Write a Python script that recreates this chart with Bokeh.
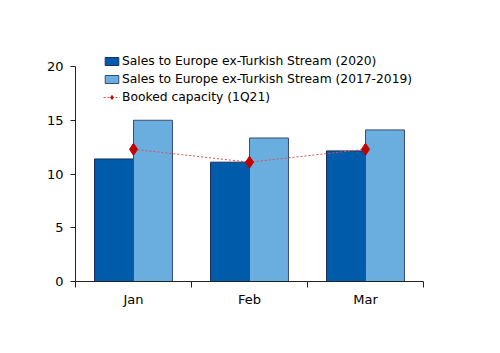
from bokeh.plotting import figure
from bokeh.models import ColumnDataSource, FixedTicker, Legend, LegendItem
from bokeh.embed import file_html
from bokeh.resources import INLINE

months = ["Jan", "Feb", "Mar"]
sales_2020 = [11.4, 11.1, 12.15]
sales_2017_2019 = [15.0, 13.35, 14.1]
booked_capacity = [12.3, 11.1, 12.3]
y_ticks = [0, 5, 10, 15, 20]

centers = [i + 0.5 for i in range(len(months))]
bar_w = 0.336

src = ColumnDataSource(dict(
    xc=centers,
    x1=[c - bar_w / 2 for c in centers],
    x2=[c + bar_w / 2 for c in centers],
    s20=sales_2020, s17=sales_2017_2019, bc=booked_capacity,
))

# frame: left 75, right 423, top 40, bottom 281 (20 -> y=66)
p = figure(width=500, height=353, x_range=(0, 3), y_range=(0, 22.42),
           output_backend="svg", toolbar_location=None,
           min_border_left=75, min_border_right=77, min_border_top=40, min_border_bottom=72)
p.outline_line_color = None
p.xgrid.visible = False
p.ygrid.visible = False

r1 = p.vbar(x="x1", top="s20", width=bar_w, source=src, fill_color="#005BAA",
            line_color="#1B2F5E", line_width=1)
r2 = p.vbar(x="x2", top="s17", width=bar_w, source=src, fill_color="#6AADDF",
            line_color="#3A4A70", line_width=1)
r3 = p.line(x="xc", y="bc", source=src, line_color="#E05050", line_width=1, line_dash="2 2")
r4 = p.scatter(x="xc", y="bc", source=src, marker="diamond", size=12,
               fill_color="#C00000", line_color="#C00000")

font = "DejaVu Sans"
p.xaxis.ticker = FixedTicker(ticks=centers, minor_ticks=[0, 1, 2, 3])
p.xaxis.major_label_overrides = {c: m for c, m in zip(centers, months)}
p.xaxis.major_tick_line_color = None
p.xaxis.minor_tick_in = 0
p.xaxis.minor_tick_out = 6
p.xaxis.minor_tick_line_color = "#222222"
p.yaxis.ticker = FixedTicker(ticks=y_ticks, minor_ticks=[])
p.yaxis.bounds = (y_ticks[0], y_ticks[-1])
p.yaxis.major_tick_in = 0
p.yaxis.major_tick_out = 5
p.yaxis.major_tick_line_color = "#222222"
for ax in (p.xaxis, p.yaxis):
    ax.axis_line_color = "#222222"
    ax.major_label_text_font = font
    ax.major_label_text_font_size = "13px"
    ax.major_label_text_color = "#000000"
p.xaxis.major_label_standoff = 4
p.yaxis.major_label_standoff = 7

legend = Legend(items=[
    LegendItem(label="Sales to Europe ex-Turkish Stream (2020)", renderers=[r1]),
    LegendItem(label="Sales to Europe ex-Turkish Stream (2017-2019)", renderers=[r2]),
    LegendItem(label="Booked capacity (1Q21)", renderers=[r3, r4]),
], location=(28, 175))
legend.border_line_color = None
legend.background_fill_alpha = 0
legend.padding = 0
legend.spacing = 0
legend.margin = 0
legend.label_height = 18
legend.glyph_height = 10
legend.glyph_width = 17
legend.label_standoff = 2
legend.label_text_font = font
legend.label_text_font_size = "12.3px"
legend.label_text_color = "#000000"
p.add_layout(legend, "center")

open("out.html", "w").write(file_html(p, INLINE))
